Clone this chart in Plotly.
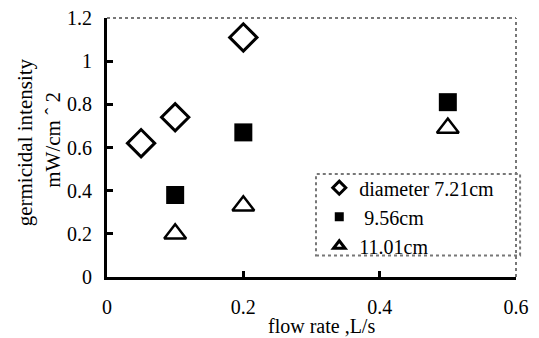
import plotly.graph_objects as go

flow_d1 = [0.05, 0.1, 0.2]
int_d1 = [0.62, 0.74, 1.11]
flow_d2 = [0.1, 0.2, 0.5]
int_d2 = [0.38, 0.67, 0.81]
flow_d3 = [0.1, 0.2, 0.5]
int_d3 = [0.20, 0.33, 0.69]
names = ["diameter 7.21cm", " 9.56cm", "11.01cm"]
x_ticks = [0, 0.2, 0.4, 0.6]
y_ticks = [0, 0.2, 0.4, 0.6, 0.8, 1, 1.2]
y_title_lines = ["germicidal intensity", "mW/cm ˆ 2"]
x_title = "flow rate ,L/s"

FONT = "'Liberation Serif', 'Times New Roman', Times, serif"
fig = go.Figure()

fig.add_trace(go.Scatter(x=flow_d1, y=int_d1, mode="markers", showlegend=False,
                         marker=dict(symbol="diamond-open", size=21, color="black", line=dict(width=3))))
fig.add_trace(go.Scatter(x=flow_d2, y=int_d2, mode="markers", showlegend=False,
                         marker=dict(symbol="square", size=18, color="black", line=dict(width=0))))
fig.add_trace(go.Scatter(x=flow_d3, y=int_d3, mode="markers", showlegend=False,
                         marker=dict(symbol="triangle-up-open", size=19, color="black", line=dict(width=2.5))))

# legend entries
fig.add_trace(go.Scatter(x=[None], y=[None], mode="markers", name=names[0],
                         marker=dict(symbol="diamond-open", size=10, color="black", line=dict(width=3))))
fig.add_trace(go.Scatter(x=[None], y=[None], mode="markers", name=names[1],
                         marker=dict(symbol="square", size=9, color="black")))
fig.add_trace(go.Scatter(x=[None], y=[None], mode="markers", name=names[2],
                         marker=dict(symbol="triangle-up-open", size=10, color="black", line=dict(width=3))))

fig.update_layout(
    width=539, height=338,
    margin=dict(l=107, r=23, t=18, b=61),
    paper_bgcolor="white", plot_bgcolor="white",
    font=dict(family=FONT, size=20, color="black"),
    showlegend=True,
    legend=dict(x=0.519, y=0.42, xanchor="left", yanchor="top",
                bgcolor="rgba(0,0,0,0)", borderwidth=0,
                font=dict(family=FONT, size=20, color="black"), itemwidth=30, tracegroupgap=0),
    xaxis=dict(range=[0, 0.6], tickvals=x_ticks, ticktext=["0", "0.2", "0.4", "0.6"],
               showgrid=False, zeroline=False, showline=True, linecolor="black", linewidth=3,
               ticks="inside", ticklen=6, tickwidth=3, tickcolor="black",
               tickfont=dict(family=FONT, size=20, color="black"),
               ticklabelstandoff=10, automargin=False),
    yaxis=dict(range=[0, 1.2], tickvals=y_ticks, ticktext=["0", "0.2", "0.4", "0.6", "0.8", "1", "1.2"],
               showgrid=False, zeroline=False, showline=True, linecolor="black", linewidth=3,
               ticks="inside", ticklen=6, tickwidth=3, tickcolor="black",
               tickfont=dict(family=FONT, size=20, color="black"),
               ticklabelstandoff=8, automargin=False),
    annotations=[
        dict(text=y_title_lines[0], xref="paper", yref="paper", x=-0.2005, y=0.52,
             xanchor="center", yanchor="middle", textangle=-90, showarrow=False,
             font=dict(family=FONT, size=21, color="black")),
        dict(text=y_title_lines[1], xref="paper", yref="paper", x=-0.132, y=0.53,
             xanchor="center", yanchor="middle", textangle=-90, showarrow=False,
             font=dict(family=FONT, size=21, color="black")),
        dict(text=x_title, xref="paper", yref="paper", x=0.525, y=-0.19,
             xanchor="center", yanchor="middle", showarrow=False,
             font=dict(family=FONT, size=20, color="black")),
    ],
    shapes=[
        dict(type="line", xref="paper", yref="paper", x0=0, x1=1, y0=1, y1=1,
             line=dict(color="#777", width=2, dash="dot")),
        dict(type="line", xref="paper", yref="paper", x0=1, x1=1, y0=0, y1=1,
             line=dict(color="#777", width=2, dash="dot")),
        dict(type="rect", xref="paper", yref="paper", x0=0.511, x1=1.01, y0=0.083, y1=0.398,
             line=dict(color="#777", width=2, dash="dot")),
    ],
)

fig.write_html("out.html", config={"displayModeBar": False},
               post_script="document.body.style.margin='0';document.body.style.padding='0';")
